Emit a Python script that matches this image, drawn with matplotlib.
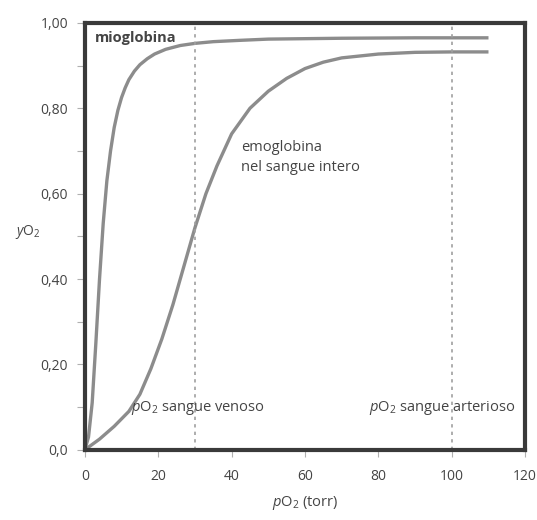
"""Curve di saturazione: mioglobina vs emoglobina nel sangue intero."""
import matplotlib
matplotlib.use("Agg")
import matplotlib.pyplot as plt
from matplotlib.ticker import MultipleLocator

plt.rcParams['font.family'] = ['Open Sans', 'DejaVu Sans']
plt.rcParams['mathtext.fontset'] = 'custom'
plt.rcParams['mathtext.it'] = 'Open Sans:italic'
plt.rcParams['mathtext.rm'] = 'Open Sans'

# valori: pO2 (torr) -> yO2
mb_p = [0, 1, 2, 3, 4, 5, 6, 7, 8, 9, 10, 11, 12, 13.5, 15, 17, 19, 22, 26,
        30, 35, 42, 50, 70, 90, 110]
mb_y = [0, 0.03, 0.11, 0.25, 0.40, 0.53, 0.63, 0.70, 0.755, 0.795, 0.825,
        0.848, 0.867, 0.887, 0.902, 0.916, 0.927, 0.938, 0.947, 0.952, 0.956,
        0.959, 0.962, 0.964, 0.965, 0.965]

hb_p = [0, 4, 8, 12, 15, 18, 21, 24, 27, 30, 33, 36, 40, 45, 50, 55, 60, 65,
        70, 80, 90, 100, 110]
hb_y = [0, 0.025, 0.055, 0.09, 0.13, 0.19, 0.26, 0.34, 0.43, 0.52, 0.60, 0.665,
        0.74, 0.80, 0.84, 0.87, 0.893, 0.908, 0.918, 0.927, 0.931, 0.932, 0.932]

p_venoso = 30
p_arterioso = 100

y_ticks = [0.0, 0.2, 0.4, 0.6, 0.8, 1.0]
y_ticklabels = ["0,0", "0,20", "0,40", "0,60", "0,80", "1,00"]
x_ticks = [0, 20, 40, 60, 80, 100, 120]

fig = plt.figure(figsize=(5.37, 5.20), dpi=100)
ax = fig.add_axes([0.158, 0.135, 0.82, 0.821])

curve_col = "#8c8c8c"
ax.plot(mb_p, mb_y, color=curve_col, lw=2.4, solid_capstyle="butt",
        solid_joinstyle="round")
ax.plot(hb_p, hb_y, color=curve_col, lw=2.4, solid_capstyle="butt",
        solid_joinstyle="round")

for xv in (p_venoso, p_arterioso):
    ax.axvline(xv, color="#a0a0a0", lw=1.2, ls=(0, (2, 2.5)))

ax.set_xlim(0, 120)
ax.set_ylim(0, 1.0)
ax.set_xticks(x_ticks)
ax.set_yticks(y_ticks)
ax.set_yticklabels(y_ticklabels)
ax.yaxis.set_minor_locator(MultipleLocator(0.1))

for s in ax.spines.values():
    s.set_linewidth(3.0)
    s.set_color("#3a3a3a")

ax.tick_params(axis="both", which="both", direction="out", color="#b0b0b0",
               labelcolor="#444444", labelsize=10, width=0.8)
ax.tick_params(axis="y", which="major", length=6, pad=6)
ax.tick_params(axis="y", which="minor", length=6)
ax.tick_params(axis="x", which="major", length=5, pad=9)

ax.set_xlabel(r"$p$O$_2$ (torr)", fontsize=10.5, color="#444444", labelpad=7)
ax.set_ylabel(r"$y$O$_2$", fontsize=10, color="#444444", rotation=0)
ax.yaxis.set_label_coords(-0.13, 0.49)

ax.text(2.8, 0.965, "mioglobina", fontsize=10.5, fontweight="bold",
        color="#444444", va="center", ha="left")
ax.text(42.5, 0.685, "emoglobina\nnel sangue intero", fontsize=10.5,
        color="#444444", va="center", ha="left", linespacing=1.5)
ax.text(12.5, 0.097, r"$p$O$_2$ sangue venoso", fontsize=10.5,
        color="#444444", va="center", ha="left")
ax.text(77.5, 0.097, r"$p$O$_2$ sangue arterioso", fontsize=10.5,
        color="#444444", va="center", ha="left")

fig.savefig("out.png", dpi=100)
